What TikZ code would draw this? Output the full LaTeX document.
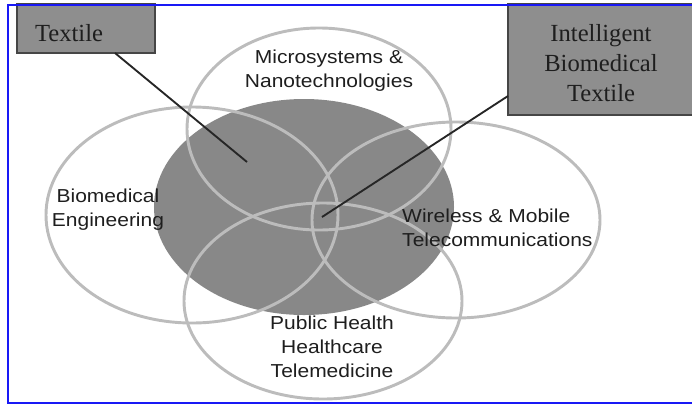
\documentclass[tikz,border=0pt]{standalone}
\usepackage{fontspec}
\setmainfont{Liberation Serif}
\newfontfamily\labelfont[FakeStretch=1.12]{Liberation Sans}
\usetikzlibrary{shapes.geometric}

\definecolor{frameblue}{RGB}{25,25,245}
\definecolor{textilegray}{RGB}{136,136,136}
\definecolor{ringgray}{RGB}{188,188,188}
\definecolor{boxgray}{RGB}{142,142,142}
\definecolor{boxedge}{RGB}{70,70,70}
\definecolor{inkgray}{RGB}{30,30,30}

\begin{document}
\begin{tikzpicture}[x=0.03cm, y=-0.03cm,
  area/.style={ellipse, inner sep=0pt, outer sep=0pt},
  ring/.style={area, draw=ringgray, line width=2.5pt},
  core/.style={area, fill=textilegray},
  tag/.style={rectangle, fill=boxgray, draw=boxedge, line width=1.2pt, inner sep=0pt, outer sep=0pt},
  tagtext/.style={font=\fontsize{21}{25.6}\selectfont, text=inkgray, align=center, inner sep=0pt},
  field/.style={font=\labelfont\fontsize{16}{20.5}\selectfont, text=inkgray, inner sep=0pt},
  pointer/.style={draw=black!85, line width=1.6pt}
]
\useasboundingbox (0,0) rectangle (692,406);
\clip (0,0) rectangle (692,406);

% shaded textile region
\node[core, minimum width=9cm, minimum height=6.48cm] (textile) at (304,207) {};

% the four domain rings
\node[ring, minimum width=7.92cm, minimum height=6.06cm] (micro) at (319,129) {};
\node[ring, minimum width=8.76cm, minimum height=6.48cm] (biomed) at (192,215) {};
\node[ring, minimum width=8.64cm, minimum height=5.88cm] (wireless) at (456,220) {};
\node[ring, minimum width=8.34cm, minimum height=5.88cm] (health) at (323,301) {};

% domain labels
\node[field, align=center] (microText) at (329,71) {Microsystems \&\\Nanotechnologies};
\node[field, align=center] (biomedText) at (108,210) {Biomedical\\Engineering};
\node[field, align=left, anchor=west] (wirelessText) at (402,228) {Wireless \& Mobile\\Telecommunications};
\node[field, align=center] (healthText) at (332,347) {Public Health\\Healthcare\\Telemedicine};

% callout boxes
\node[tag, minimum width=4.14cm, minimum height=1.47cm] (textileBox) at (86,28.5) {};
\node[tagtext] (textileText) at (69,33) {Textile};
\node[tag, minimum width=5.76cm, minimum height=3.33cm] (ibtBox) at (604,59.5) {};
\node[tagtext] (ibtText) at (601,63) {Intelligent\\Biomedical\\Textile};

% callout pointers
\coordinate (textileTip) at (247,162);
\coordinate (ibtTip) at (322,217);
\draw[pointer] ([xshift=0.87cm]textileBox.south) -- (textileTip);
\draw[pointer] ([yshift=-1.095cm]ibtBox.west) -- (ibtTip);

% outer frame
\draw[frameblue, line width=1.8pt] (8,5) rectangle (720,403);
\end{tikzpicture}
\end{document}
